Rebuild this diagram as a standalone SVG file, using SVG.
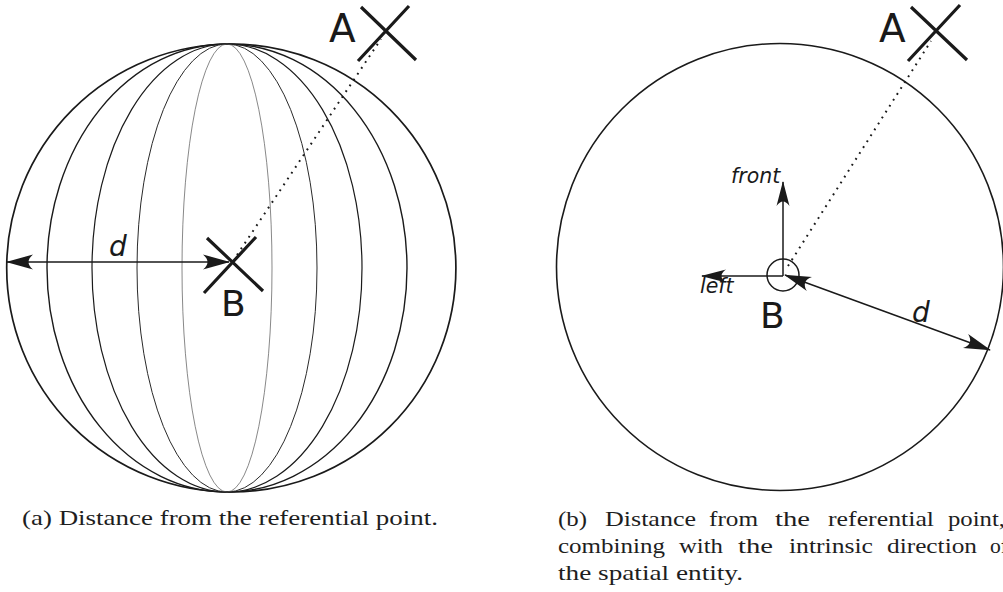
<svg xmlns="http://www.w3.org/2000/svg" width="1003" height="592" viewBox="0 0 1003 592">
<style>
.ln{fill:none;stroke:#1a1a1a;stroke-width:1.5}
.cross{fill:none;stroke:#1a1a1a;stroke-width:3.2}
.dot{fill:none;stroke:#1a1a1a;stroke-width:2;stroke-dasharray:1.8 5.2}
.lbl{font-family:"DejaVu Sans",Verdana,sans-serif;fill:#1a1a1a}
.it{font-family:"DejaVu Sans",Verdana,sans-serif;font-style:italic;fill:#1a1a1a}
.cap{font-family:"Liberation Serif","Times New Roman",serif;font-size:22px;fill:#1e1e1e}
</style>
<defs>
<marker id="ah" markerUnits="userSpaceOnUse" markerWidth="40" markerHeight="40" refX="0" refY="0" orient="auto-start-reverse" overflow="visible">
<path d="M1,0 L-26,-7.5 C-20,-2.5 -20,2.5 -26,7.5 Z" fill="#1a1a1a"/>
</marker>
<marker id="ahs" markerUnits="userSpaceOnUse" markerWidth="40" markerHeight="40" refX="0" refY="0" orient="auto-start-reverse" overflow="visible">
<path d="M1,0 L-24,-6.5 C-18,-2.2 -18,2.2 -24,6.5 Z" fill="#1a1a1a"/>
</marker>
</defs>

<g id="sphere">
<ellipse cx="231.3" cy="268" rx="224.6" ry="224" fill="none" stroke="#1a1a1a" stroke-width="1.7"/>
<ellipse cx="227" cy="268" rx="180" ry="224" fill="none" stroke="#1a1a1a" stroke-width="1.4"/>
<ellipse cx="227" cy="268" rx="135" ry="224" fill="none" stroke="#1a1a1a" stroke-width="1.2"/>
<ellipse cx="227" cy="268" rx="90" ry="224" fill="none" stroke="#2a2a2a" stroke-width="1"/>
<ellipse cx="227" cy="268" rx="45" ry="224" fill="none" stroke="#555" stroke-width="0.7"/>
</g>

<g id="circle-b">
<circle cx="780" cy="267" r="223.5" fill="none" stroke="#1a1a1a" stroke-width="1.6"/>
<circle cx="783" cy="275" r="16" class="ln"/>
</g>

<g id="connectors">
<path class="dot" d="M237,255 L381,39"/>
<path class="dot" d="M788,266 L931,41"/>
<path class="ln" d="M7,262 L229,262" marker-start="url(#ah)" marker-end="url(#ah)"/>
<path class="ln" d="M783,276 L783,182" marker-end="url(#ahs)"/>
<path class="ln" d="M783,276 L702,276" marker-end="url(#ahs)"/>
<path class="ln" d="M785,275 L990,350" marker-start="url(#ah)" marker-end="url(#ah)"/>
</g>

<g id="point-a-left">
<path class="cross" d="M361,7 L416,60 M409,6 L358,61"/>
<text class="lbl" x="329" y="42" font-size="39">A</text>
</g>
<g id="point-b-left">
<path class="cross" d="M207,238 L263,291 M256,237 L204,293"/>
<text class="lbl" x="221" y="316" font-size="36">B</text>
</g>
<text id="d-left" class="it" x="109" y="256" font-size="28">d</text>

<g id="point-a-right">
<path class="cross" d="M911,7 L967,60 M960,5 L908,61"/>
<text class="lbl" x="879" y="42" font-size="39">A</text>
</g>
<g id="point-b-right">
<text class="lbl" x="760" y="328" font-size="36">B</text>
</g>
<text id="front" class="it" x="731" y="183" font-size="20.5">front</text>
<text id="left" class="it" x="700" y="293" font-size="20.5">left</text>
<text id="d-right" class="it" x="912" y="322" font-size="28">d</text>

<g id="captions">
<text class="cap" x="22" y="525" textLength="416" lengthAdjust="spacingAndGlyphs">(a) Distance from the referential point.</text>
<text class="cap" y="526"><tspan x="558" textLength="29" lengthAdjust="spacingAndGlyphs">(b)</tspan><tspan x="605" textLength="91" lengthAdjust="spacingAndGlyphs">Distance</tspan><tspan x="709" textLength="49" lengthAdjust="spacingAndGlyphs">from</tspan><tspan x="775" textLength="35" lengthAdjust="spacingAndGlyphs">the</tspan><tspan x="828" textLength="106" lengthAdjust="spacingAndGlyphs">referential</tspan><tspan x="948" textLength="57" lengthAdjust="spacingAndGlyphs">point,</tspan></text>
<text class="cap" y="553"><tspan x="558" textLength="107" lengthAdjust="spacingAndGlyphs">combining</tspan><tspan x="679" textLength="44" lengthAdjust="spacingAndGlyphs">with</tspan><tspan x="738" textLength="35" lengthAdjust="spacingAndGlyphs">the</tspan><tspan x="789" textLength="84" lengthAdjust="spacingAndGlyphs">intrinsic</tspan><tspan x="887" textLength="90" lengthAdjust="spacingAndGlyphs">direction</tspan><tspan x="990" textLength="18" lengthAdjust="spacingAndGlyphs">of</tspan></text>
<text class="cap" x="558" y="580" textLength="185" lengthAdjust="spacingAndGlyphs">the spatial entity.</text>
</g>
</svg>
